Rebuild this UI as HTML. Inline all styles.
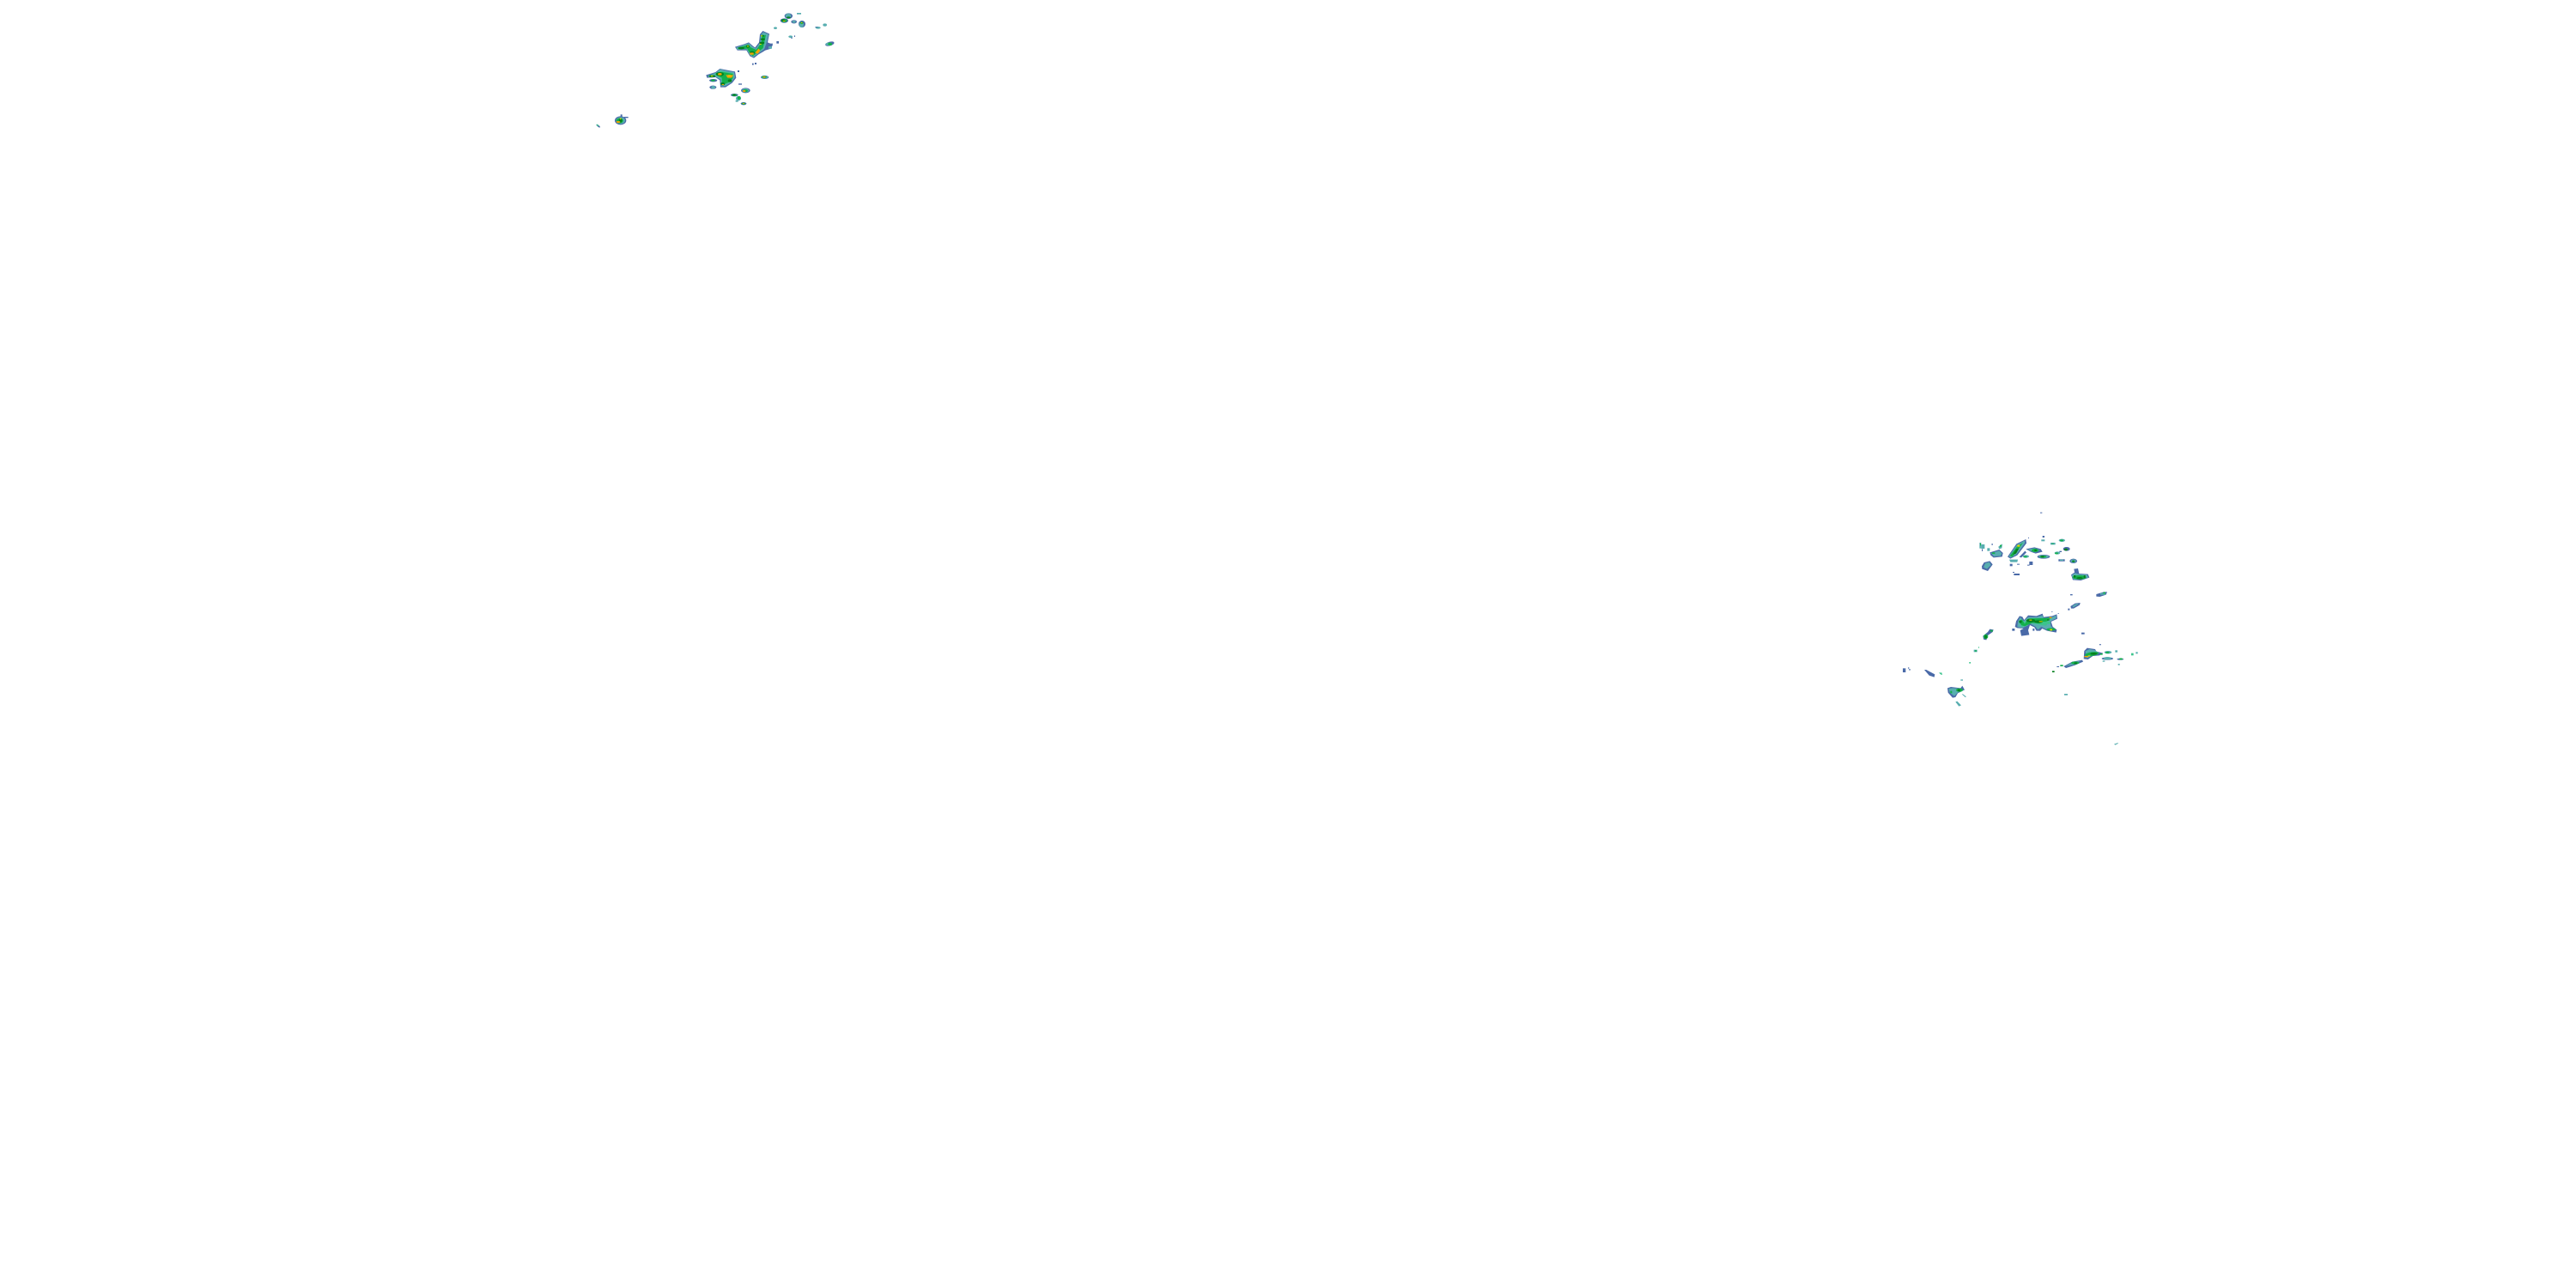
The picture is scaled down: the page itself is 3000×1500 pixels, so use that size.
<!DOCTYPE html>
<html><head><meta charset="utf-8"><style>
html,body{margin:0;padding:0;background:#fff}
svg{display:block}
.b{fill:#4a6aa8}.t{fill:#58aeb0}.m{fill:#3cc48c}.g{fill:#14b04c}.d{fill:#06801e}.y{fill:#e8d800}.o{fill:#f4a400}
</style></head><body>
<svg width="3000" height="1500" viewBox="0 0 3000 1500" xmlns="http://www.w3.org/2000/svg">
<rect width="3000" height="1500" fill="#fff"/>
<!-- top-left cluster -->
<g transform="translate(670,0) scale(.33333)">
<ellipse class="b" cx="80" cy="440" rx="8" ry="3" transform="rotate(40 80 440)"/><ellipse class="m" cx="78" cy="438" rx="5" ry="2" transform="rotate(40 78 438)"/>
<ellipse class="b" cx="158" cy="421" rx="20" ry="15"/><rect class="b" x="158" y="400" width="6" height="14"/><rect class="b" x="170" y="408" width="15" height="4"/>
<ellipse class="t" cx="158" cy="421" rx="16" ry="12"/><ellipse class="g" cx="155" cy="422" rx="12" ry="9"/><ellipse class="d" cx="158" cy="420" rx="6" ry="8"/><ellipse class="o" cx="150" cy="426" rx="7" ry="3"/><ellipse class="y" cx="158" cy="415" rx="3" ry="2"/>
<!-- big blob -->
<polygon class="b" points="457,262 490,252 505,240 530,245 558,250 562,272 548,290 525,305 507,305 505,280 490,270 460,272"/>
<polygon class="t" points="462,264 492,254 506,242 530,248 555,252 558,270 545,288 525,300 510,302 508,278 490,268 465,270"/>
<polygon class="m" points="485,258 510,248 552,256 552,272 540,288 512,298 510,275"/>
<polygon class="g" points="490,258 515,252 550,258 550,274 535,288 514,296 512,272"/>
<ellipse class="d" cx="505" cy="259" rx="14" ry="7"/><ellipse class="d" cx="515" cy="293" rx="8" ry="5"/><ellipse class="d" cx="540" cy="282" rx="7" ry="5"/><ellipse class="d" cx="478" cy="266" rx="12" ry="4"/>
<ellipse class="o" cx="505" cy="259" rx="7" ry="4"/><polygon class="o" points="526,262 552,262 546,272 532,272"/><rect class="y" x="534" y="262" width="10" height="3"/><rect class="o" x="512" y="294" width="7" height="3"/><rect class="y" x="474" y="264" width="7" height="3"/>
<ellipse class="b" cx="482" cy="281" rx="14" ry="5"/><ellipse class="g" cx="481" cy="281" rx="7" ry="3"/>
<ellipse class="b" cx="481" cy="305" rx="12" ry="6"/><ellipse class="t" cx="482" cy="305" rx="7" ry="5"/>
<rect class="b" x="567" y="246" width="6" height="6"/><rect class="b" x="570" y="292" width="12" height="4"/>
<ellipse class="b" cx="662" cy="270" rx="14" ry="6"/><ellipse class="t" cx="662" cy="270" rx="12" ry="5"/><ellipse class="g" cx="660" cy="269" rx="9" ry="4"/><ellipse class="o" cx="660" cy="269" rx="5" ry="2.5"/>
<ellipse class="b" cx="595" cy="316" rx="16" ry="9"/><ellipse class="t" cx="595" cy="316" rx="12" ry="7"/><ellipse class="g" cx="594" cy="317" rx="9" ry="5"/><ellipse class="o" cx="590" cy="318" rx="5" ry="3"/>
<ellipse class="b" cx="556" cy="332" rx="13" ry="5"/><ellipse class="g" cx="556" cy="332" rx="9" ry="4"/><ellipse class="d" cx="555" cy="332" rx="5" ry="3"/>
<ellipse class="t" cx="570" cy="344" rx="9" ry="8"/><ellipse class="g" cx="572" cy="342" rx="6" ry="6"/><rect class="t" x="560" y="350" width="9" height="6"/>
<ellipse class="b" cx="588" cy="362" rx="10" ry="5"/><ellipse class="g" cx="588" cy="362" rx="7" ry="3"/><rect class="o" x="585" y="360" width="5" height="3"/>
<rect class="b" x="618" y="221" width="5" height="6"/><rect class="b" x="627" y="219" width="6" height="6"/>
<!-- V blob -->
<polygon class="b" points="558,164 590,154 606,148 620,160 628,166 642,148 645,120 655,108 678,118 672,148 690,156 684,170 664,176 640,190 624,203 610,196 598,176 566,176"/>
<polygon class="t" points="562,166 590,156 606,151 618,162 630,170 646,148 648,122 657,112 675,120 668,150 660,172 638,188 622,200 610,192 598,172 566,174"/>
<polygon class="g" points="568,167 604,156 614,166 632,174 650,150 652,126 666,122 660,150 656,168 636,184 620,196 610,186 600,170 570,172"/>
<ellipse class="d" cx="580" cy="168" rx="11" ry="4"/><ellipse class="d" cx="603" cy="162" rx="6" ry="5"/><ellipse class="d" cx="655" cy="137" rx="8" ry="4"/><ellipse class="d" cx="652" cy="150" rx="9" ry="4"/><ellipse class="d" cx="654" cy="125" rx="6" ry="3"/><ellipse class="d" cx="618" cy="184" rx="9" ry="5"/>
<polygon class="o" points="628,184 640,170 646,176 638,188"/><rect class="o" x="610" y="184" width="13" height="7"/><rect class="y" x="600" y="160" width="6" height="3"/><rect class="y" x="648" y="124" width="6" height="3"/><rect class="y" x="644" y="153" width="6" height="3"/>
<rect class="b" x="703" y="144" width="8" height="8"/><rect class="t" x="675" y="162" width="12" height="8"/><rect class="b" x="672" y="152" width="18" height="3"/>
<!-- upper right small -->
<ellipse class="t" cx="699" cy="98" rx="6" ry="4"/>
<ellipse class="b" cx="745" cy="56" rx="14" ry="10"/><ellipse class="t" cx="744" cy="55" rx="10" ry="8"/><ellipse class="d" cx="745" cy="61" rx="7" ry="3"/>
<rect class="t" x="774" y="45" width="15" height="5"/>
<ellipse class="b" cx="730" cy="72" rx="14" ry="8"/><ellipse class="g" cx="730" cy="72" rx="10" ry="6"/><ellipse class="d" cx="726" cy="70" rx="6" ry="3"/><rect class="o" x="726" y="72" width="7" height="3"/>
<ellipse class="b" cx="764" cy="76" rx="10" ry="6"/><ellipse class="t" cx="764" cy="76" rx="6" ry="4"/>
<ellipse class="b" cx="792" cy="84" rx="12" ry="12"/><ellipse class="t" cx="790" cy="86" rx="8" ry="10"/><ellipse class="g" cx="791" cy="80" rx="6" ry="4"/><rect class="o" x="789" y="78" width="4" height="3"/>
<ellipse class="t" cx="848" cy="97" rx="9" ry="4"/><rect class="b" x="838" y="93" width="10" height="2"/>
<ellipse class="t" cx="872" cy="87" rx="7" ry="5"/>
<ellipse class="t" cx="752" cy="128" rx="7" ry="4"/><rect class="b" x="753" y="131" width="6" height="3"/><rect class="b" x="765" y="124" width="3" height="5"/>
<ellipse class="b" cx="889" cy="153" rx="16" ry="7" transform="rotate(-15 889 153)"/><ellipse class="t" cx="886" cy="154" rx="12" ry="5"/><ellipse class="g" cx="890" cy="154" rx="7" ry="5"/>
</g>
<!-- right upper cluster -->
<g transform="translate(2280,590) scale(.33333)">
<rect class="b" x="288" y="20" width="7" height="3"/>
<rect class="t" x="76" y="126" width="6" height="20"/><rect class="g" x="78" y="128" width="3" height="8"/><rect class="t" x="82" y="132" width="12" height="15"/><rect class="b" x="84" y="148" width="3" height="8"/>
<rect class="t" x="103" y="145" width="9" height="10"/><rect class="b" x="118" y="130" width="5" height="4"/>
<polygon class="b" points="112,160 145,150 158,162 155,175 125,178 115,170"/><polygon class="t" points="116,162 145,154 154,164 150,172 126,174"/><rect class="g" x="120" y="160" width="10" height="5"/>
<polygon class="t" points="142,140 156,130 154,145 144,148"/><rect class="g" x="147" y="134" width="6" height="6"/>
<polygon class="b" points="92,195 112,190 122,202 105,225 85,218 84,208"/><polygon class="t" points="96,198 110,194 116,204 102,218 90,212"/>
<!-- diagonal -->
<polygon class="b" points="174,175 205,130 238,114 240,128 208,170 184,182"/><polygon class="t" points="178,174 207,133 234,118 234,128 206,166 186,178"/><polygon class="g" points="182,172 208,138 228,126 204,160 190,176"/><polygon class="d" points="192,168 204,148 214,146 204,164"/><rect class="y" x="208" y="134" width="9" height="6"/>
<rect class="b" x="246" y="108" width="3" height="3"/>
<rect class="b" x="296" y="102" width="7" height="6"/><rect class="t" x="292" y="115" width="12" height="6"/>
<rect class="t" x="324" y="126" width="17" height="7"/><rect class="g" x="329" y="128" width="6" height="3"/>
<ellipse class="t" cx="364" cy="118" rx="11" ry="5"/><ellipse class="g" cx="363" cy="118" rx="6" ry="3"/>
<ellipse class="b" cx="380" cy="148" rx="12" ry="7"/><ellipse class="d" cx="378" cy="150" rx="6" ry="4"/>
<polygon class="b" points="238,148 268,142 290,148 296,158 272,164 255,158"/><polygon class="t" points="244,150 268,145 288,152 270,160 256,156"/><ellipse class="g" cx="270" cy="153" rx="12" ry="6"/><rect class="d" x="268" y="150" width="8" height="6"/>
<polygon class="b" points="215,176 235,155 240,160 222,178"/>
<ellipse class="t" cx="238" cy="174" rx="11" ry="5"/><ellipse class="g" cx="236" cy="175" rx="6" ry="3"/>
<ellipse class="b" cx="300" cy="175" rx="22" ry="7"/><ellipse class="t" cx="300" cy="175" rx="18" ry="5"/><ellipse class="g" cx="298" cy="175" rx="12" ry="4"/><ellipse class="d" cx="296" cy="175" rx="6" ry="3"/>
<ellipse class="t" cx="348" cy="162" rx="10" ry="5"/><ellipse class="g" cx="345" cy="163" rx="6" ry="3"/><rect class="b" x="355" y="155" width="8" height="4"/>
<rect class="b" x="352" y="184" width="22" height="7"/><rect class="t" x="357" y="185" width="12" height="4"/>
<ellipse class="b" cx="404" cy="190" rx="13" ry="8"/><ellipse class="t" cx="404" cy="190" rx="9" ry="6"/><ellipse class="d" cx="404" cy="191" rx="5" ry="3"/>
<polygon class="t" points="180,185 210,185 208,194 184,194"/><rect class="b" x="182" y="200" width="9" height="8"/><rect class="b" x="207" y="200" width="9" height="3"/><rect class="b" x="243" y="203" width="8" height="3"/><rect class="b" x="250" y="192" width="12" height="12"/>
<rect class="b" x="192" y="228" width="6" height="3"/><rect class="b" x="196" y="234" width="20" height="6"/>
<!-- right blob -->
<polygon class="b" points="396,238 408,230 406,218 420,216 424,234 455,236 460,248 430,258 402,256"/><polygon class="t" points="398,240 410,232 422,236 452,238 456,248 430,255 404,254"/><ellipse class="g" cx="425" cy="247" rx="24" ry="7"/><ellipse class="d" cx="426" cy="250" rx="11" ry="4"/><rect class="d" x="440" y="240" width="6" height="10"/><rect class="d" x="405" y="240" width="7" height="8"/>
<rect class="b" x="393" y="306" width="8" height="4"/>
<polygon class="b" points="484,306 510,298 522,298 518,308 496,315 484,314"/><rect class="t" x="498" y="302" width="18" height="6"/><rect class="g" x="508" y="299" width="8" height="5"/>
</g>
<!-- right lower cluster -->
<g transform="translate(2200,700) scale(.33333)">
<polygon class="b" points="634,18 650,8 668,6 666,14 645,26 636,26"/><polygon class="t" points="640,18 652,10 664,9 644,22"/><rect class="b" x="625" y="26" width="6" height="6"/>
<!-- main blob -->
<polygon class="b" points="444,70 456,52 466,55 472,66 486,50 515,52 536,44 540,56 570,52 586,46 588,62 566,72 572,90 586,100 584,110 552,104 535,96 528,104 515,104 508,92 492,84 486,102 490,118 462,122 458,102 470,96 448,94 440,90"/>
<polygon class="t" points="450,72 458,56 470,70 486,56 516,56 536,50 540,60 570,56 584,50 584,60 562,72 566,88 580,102 552,100 532,90 520,100 512,90 492,78 484,86 466,94 448,90"/>
<polygon class="m" points="454,74 462,62 474,74 490,60 520,60 568,60 556,70 550,86 530,84 500,76 480,84 464,90"/>
<polygon class="g" points="456,72 464,64 474,80 486,62 530,60 566,58 552,70 540,74 526,78 500,76 474,88 462,84"/>
<rect class="m" x="536" y="72" width="28" height="8"/>
<ellipse class="d" cx="495" cy="68" rx="16" ry="6"/><ellipse class="d" cx="522" cy="72" rx="15" ry="5"/><ellipse class="d" cx="459" cy="72" rx="5" ry="5"/><rect class="d" x="552" y="64" width="8" height="4"/>
<rect class="y" x="490" y="65" width="9" height="3"/><rect class="y" x="524" y="70" width="12" height="3"/><rect class="o" x="560" y="56" width="8" height="4"/><ellipse class="g" cx="566" cy="99" rx="16" ry="5"/><rect class="y" x="562" y="98" width="8" height="5"/>
<rect class="b" x="430" y="96" width="9" height="8"/><rect class="b" x="502" y="96" width="6" height="8"/><rect class="b" x="568" y="36" width="3" height="3"/><rect class="b" x="590" y="42" width="3" height="3"/>
<rect class="b" x="672" y="110" width="11" height="6"/>
<polygon class="b" points="328,122 345,108 352,98 365,100 362,108 345,120 340,136 330,134"/><ellipse class="g" cx="338" cy="124" rx="8" ry="8"/><ellipse class="d" cx="338" cy="125" rx="4" ry="6"/><rect class="g" x="354" y="101" width="8" height="6"/>
<rect class="t" x="296" y="170" width="12" height="8"/><rect class="g" x="300" y="172" width="6" height="4"/><rect class="m" x="312" y="160" width="3" height="4"/><rect class="m" x="280" y="213" width="5" height="5"/>
<!-- left bits -->
<rect class="b" x="48" y="235" width="10" height="14"/><rect class="b" x="66" y="232" width="4" height="4"/><rect class="b" x="70" y="237" width="4" height="5"/>
<polygon class="b" points="123,240 130,240 160,256 158,266 140,260"/>
<polygon class="m" points="174,250 184,250 186,258 180,256"/>
<rect class="t" x="250" y="274" width="8" height="4"/>
<!-- heart blob -->
<polygon class="b" points="204,304 216,300 250,304 256,296 264,310 240,322 232,336 222,338 206,320"/><polygon class="t" points="208,306 222,304 250,306 260,310 240,320 228,332 212,320"/><ellipse class="g" cx="246" cy="311" rx="12" ry="6"/><ellipse class="d" cx="244" cy="312" rx="5" ry="4"/><rect class="g" x="214" y="314" width="6" height="8"/>
<polygon class="t" points="254,325 258,325 270,334 266,336"/>
<polygon class="t" points="232,352 238,350 252,364 244,368"/>
<!-- right side -->
<polygon class="b" points="682,174 692,164 720,168 724,176 748,182 735,190 712,192 695,204 680,202"/><polygon class="t" points="686,175 700,168 720,172 735,182 712,190 690,200"/><ellipse class="g" cx="708" cy="185" rx="24" ry="7" transform="rotate(-8 708 185)"/><ellipse class="d" cx="715" cy="184" rx="12" ry="4"/><rect class="o" x="682" y="192" width="14" height="4"/><rect class="y" x="695" y="190" width="8" height="3"/><rect class="g" x="738" y="183" width="8" height="5"/>
<polygon class="b" points="610,228 640,212 675,206 678,212 650,224 618,234"/><polygon class="t" points="615,228 640,215 670,209 650,221"/><ellipse class="g" cx="650" cy="216" rx="14" ry="5"/><ellipse class="d" cx="652" cy="217" rx="6" ry="3"/>
<rect class="b" x="586" y="228" width="8" height="3"/><rect class="g" x="598" y="223" width="10" height="5"/><rect class="d" x="570" y="244" width="8" height="5"/>
<ellipse class="t" cx="765" cy="179" rx="13" ry="5"/><ellipse class="g" cx="763" cy="180" rx="7" ry="3"/>
<rect class="t" x="790" y="172" width="8" height="7"/><rect class="b" x="735" y="150" width="5" height="4"/>
<ellipse class="b" cx="763" cy="201" rx="20" ry="5"/><ellipse class="t" cx="763" cy="200" rx="14" ry="5"/><rect class="t" x="746" y="208" width="8" height="4"/>
<ellipse class="b" cx="808" cy="203" rx="12" ry="3"/><ellipse class="g" cx="810" cy="202" rx="6" ry="3"/><rect class="t" x="800" y="219" width="6" height="5"/>
<rect class="m" x="846" y="182" width="8" height="8"/><rect class="t" x="862" y="178" width="7" height="6"/>
<rect class="t" x="612" y="324" width="12" height="5"/>
<polygon class="t" points="786,500 800,495 800,498 790,503"/>
</g>
</svg>
</body></html>
